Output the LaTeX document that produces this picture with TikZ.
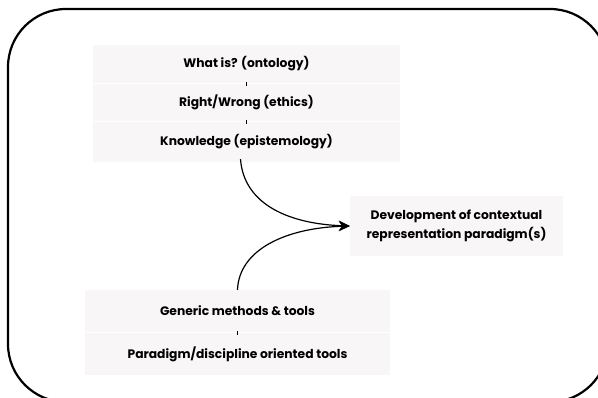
\documentclass[tikz,border=0pt]{standalone}
\usepackage{fontspec}
\setmainfont{Poppins}
\usetikzlibrary{arrows.meta}
\definecolor{boxfill}{RGB}{249,246,248}
\begin{document}
\begin{tikzpicture}[x=1pt,y=-1pt,
  band/.style={fill=boxfill,draw=none,inner sep=0pt,font=\bfseries\fontsize{12.3}{19.5}\selectfont,align=center},
  tick/.style={line width=1pt},
  link/.style={line width=1.2pt,-{Stealth[length=11pt,width=10pt]}}]
\useasboundingbox (0,0) rectangle (598,397);
\begin{scope}
\clip (0,0) rectangle (598,397);
\draw[line width=2.2pt,rounded corners=58pt] (8,9) rectangle (608,402);
\end{scope}
\node[band,minimum width=307pt,minimum height=38pt] (b1) at (246.5,64) {What is? (ontology)};
\node[band,minimum width=307pt,minimum height=37pt] (b2) at (246.5,102.5) {Right/Wrong (ethics)};
\node[band,minimum width=307pt,minimum height=40pt] (b3) at (246.5,142) {Knowledge (epistemology)};
\node[band,minimum width=213pt,minimum height=60pt] (rb) at (456.5,226) {Development of contextual\\representation paradigm(s)};
\node[band,minimum width=305pt,minimum height=42pt] (g1) at (237.5,311) {Generic methods \& tools};
\node[band,minimum width=305pt,minimum height=42pt] (g2) at (237.5,354) {Paradigm/discipline oriented tools};
\draw[tick] ([yshift=-3pt]b1.south) -- ([yshift=2pt]b2.north);
\draw[tick] ([yshift=-3pt]b2.south) -- ([yshift=2pt]b3.north);
\draw[tick] ([yshift=-3pt]g1.south) -- ([yshift=2pt]g2.north);
\coordinate (s1) at ([xshift=-6pt,yshift=3pt]b3.south);
\draw[link] (s1) .. controls (244,205) and (290,224) .. (rb.west);
\draw[link] (g1.north) .. controls (239,250) and (285,228) .. (rb.west);
\end{tikzpicture}
\end{document}
